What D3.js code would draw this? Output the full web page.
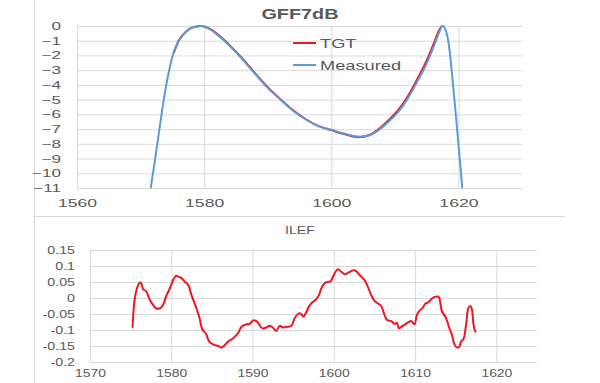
<!DOCTYPE html>
<html>
<head>
<meta charset="utf-8">
<script src="https://cdn.jsdelivr.net/npm/d3@7"></script>
<style>
  html, body { margin: 0; padding: 0; background: #ffffff; }
  svg { display: block; }
  text { font-family: "Liberation Sans", Arial, sans-serif; fill: #595959; }
</style>
</head>
<body>
<svg id="chart" width="600" height="383"></svg>
<script>
// ---------- Data (top chart: GFF7dB) ----------
const topTitle = "GFF7dB";
const topXTicks = [1560, 1580, 1600, 1620];
const topYTicks = [0, -1, -2, -3, -4, -5, -6, -7, -8, -9, -10, -11];
const seriesNames = ["TGT", "Measured"];

const measuredWl = [1571.6, 1572.2, 1572.8, 1573.4, 1574.0, 1574.6, 1575.2, 1576.0, 1577.0, 1578.0,
  1579.5, 1581.0, 1582.5, 1584.0, 1586.0, 1588.0, 1590.0, 1592.0, 1594.0, 1596.0, 1598.0, 1600.0,
  1602.0, 1604.5, 1606.0, 1607.5, 1609.0, 1610.5, 1612.0, 1613.5, 1615.0, 1616.2, 1617.0, 1617.5,
  1618.0, 1618.5, 1619.0, 1619.5, 1620.0, 1620.6];
const measuredDb = [-11, -9.3, -7.5, -5.7, -4.1, -2.8, -1.8, -1.0, -0.45, -0.13,
  0, -0.25, -0.75, -1.35, -2.25, -3.25, -4.2, -5.0, -5.75, -6.35, -6.8, -7.05,
  -7.3, -7.52, -7.42, -7.05, -6.5, -5.85, -4.95, -3.8, -2.55, -1.3, -0.4, 0,
  -0.3, -1.3, -3.3, -5.6, -8.0, -11];

const tgtWl = [1575.2, 1576.0, 1577.0, 1578.0, 1579.5, 1581.0, 1582.5, 1584.0, 1586.0, 1588.0,
  1590.0, 1592.0, 1594.0, 1596.0, 1598.0, 1600.0, 1602.0, 1604.3, 1606.0, 1607.5, 1609.0, 1610.5,
  1612.0, 1613.5, 1615.0, 1616.2, 1617.0, 1617.4];
const tgtDb = [-1.85, -1.0, -0.45, -0.13, 0, -0.22, -0.7, -1.3, -2.2, -3.2,
  -4.15, -4.97, -5.72, -6.33, -6.8, -7.07, -7.33, -7.55, -7.4, -6.98, -6.4, -5.72,
  -4.8, -3.62, -2.35, -1.1, -0.25, 0];

// ---------- Data (bottom chart: ILEF) ----------
const botTitle = "ILEF";
const botXTicks = [1570, 1580, 1590, 1600, 1610, 1620];
const botYTicks = [0.15, 0.1, 0.05, 0, -0.05, -0.1, -0.15, -0.2];
const ilefWl = [1575.24, 1575.53, 1575.94, 1576.14, 1576.3, 1576.55, 1576.88, 1577.37, 1577.78, 1578.1,
  1578.6, 1578.93, 1579.42, 1579.83, 1580.23, 1580.57, 1580.85, 1581.26, 1581.67, 1582.08,
  1582.49, 1583.02, 1583.43, 1583.85, 1584.25, 1584.66, 1585.15, 1585.77, 1586.18, 1586.59,
  1587.0, 1587.61, 1588.22, 1588.64, 1589.25, 1589.66, 1590.06, 1590.47, 1590.8, 1591.21,
  1591.7, 1592.11, 1592.52, 1592.93, 1593.34, 1593.75, 1594.24, 1594.78, 1595.18, 1595.59,
  1595.88, 1596.29, 1596.54, 1596.94, 1597.36, 1597.76, 1598.17, 1598.46, 1598.87, 1599.28,
  1599.57, 1599.9, 1600.22, 1600.51, 1600.92, 1601.41, 1601.74, 1602.15, 1602.43, 1602.76,
  1603.17, 1603.78, 1604.2, 1604.6, 1605.01, 1605.42, 1605.83, 1606.24, 1606.57, 1607.06,
  1607.47, 1607.76, 1608.0, 1608.3, 1608.7, 1609.1, 1609.52, 1609.93, 1610.22, 1610.63,
  1610.95, 1611.28, 1611.69, 1612.1, 1612.5, 1612.9, 1613.08, 1613.32, 1613.73, 1614.23,
  1614.55, 1614.84, 1615.16, 1615.45, 1615.65, 1615.94, 1616.27, 1616.55, 1616.8, 1617.0,
  1617.17, 1617.37, 1617.5];
const ilefDb = [-0.093, 0.002, 0.041, 0.048, 0.046, 0.027, 0.022, -0.006, -0.022, -0.032,
  -0.032, -0.024, 0.009, 0.03, 0.056, 0.069, 0.067, 0.062, 0.051, 0.041,
  0.009, -0.027, -0.058, -0.1, -0.11, -0.136, -0.145, -0.15, -0.155, -0.147,
  -0.136, -0.126, -0.11, -0.09, -0.082, -0.081, -0.07, -0.072, -0.082, -0.095,
  -0.092, -0.087, -0.093, -0.103, -0.087, -0.092, -0.09, -0.087, -0.063, -0.05,
  -0.048, -0.058, -0.048, -0.027, -0.013, -0.006, 0.009, 0.03, 0.046, 0.051,
  0.051, 0.067, 0.082, 0.09, 0.082, 0.074, 0.079, 0.084, 0.087, 0.084,
  0.072, 0.056, 0.035, 0.009, -0.009, -0.017, -0.025, -0.053, -0.069, -0.072,
  -0.081, -0.077, -0.095, -0.09, -0.084, -0.077, -0.072, -0.082, -0.053, -0.037,
  -0.03, -0.017, -0.013, -0.001, 0.004, 0.004, -0.012, -0.043, -0.058, -0.095,
  -0.116, -0.145, -0.155, -0.152, -0.136, -0.129, -0.084, -0.032, -0.025, -0.037,
  -0.079, -0.103, -0.107];

// ---------- Drawing ----------
const svg = d3.select("#chart");
const GRID = "#d9d9d9";
const RED = "#f01522";
const BLUE = "#5b9bd5";

function stretch(sel, k) {
  sel.each(function () {
    const len = this.getComputedTextLength();
    this.setAttribute("textLength", (len * k).toFixed(2));
    this.setAttribute("lengthAdjust", "spacingAndGlyphs");
  });
}

// outer frame lines
svg.append("line").attr("x1", 34.5).attr("x2", 34.5).attr("y1", 0).attr("y2", 383)
  .attr("stroke", GRID).attr("stroke-width", 1);
svg.append("line").attr("x1", 34).attr("x2", 565).attr("y1", 216.5).attr("y2", 216.5)
  .attr("stroke", GRID).attr("stroke-width", 1);

// ===== Top chart =====
const xT = d3.scaleLinear().domain([1560, 1630]).range([77, 522]);
const yT = d3.scaleLinear().domain([-11, 0]).range([188, 26]);

const gT = svg.append("g");
// horizontal grid
gT.append("g").attr("transform", `translate(${xT(1560)},0)`)
  .call(d3.axisLeft(yT).tickValues(topYTicks).tickSize(-(xT(1630) - xT(1560))).tickFormat(""))
  .call(g => g.select(".domain").remove())
  .call(g => g.selectAll("line").attr("stroke", GRID));
// vertical grid
gT.append("g").attr("transform", `translate(0,${yT(-11)})`)
  .call(d3.axisBottom(xT).tickValues(topXTicks).tickSize(-(yT(-11) - yT(0))).tickFormat(""))
  .call(g => g.select(".domain").remove())
  .call(g => g.selectAll("line").attr("stroke", GRID));

// y labels
const yAxT = gT.append("g").attr("transform", `translate(61,0)`)
  .call(d3.axisLeft(yT).tickValues(topYTicks).tickSize(0).tickPadding(0).tickFormat(d3.format("d")))
  .call(g => g.select(".domain").remove());
yAxT.selectAll("text").attr("font-size", 11).attr("fill", "#595959")
  .style("font-family", '"Liberation Sans", Arial, sans-serif');
stretch(yAxT.selectAll("text"), 1.55);

// x labels
const xAxT = gT.append("g").attr("transform", `translate(0,199)`)
  .call(d3.axisBottom(xT).tickValues(topXTicks).tickSize(0).tickPadding(0).tickFormat(d3.format("d")))
  .call(g => g.select(".domain").remove());
xAxT.selectAll("text").attr("font-size", 11).attr("fill", "#595959")
  .style("font-family", '"Liberation Sans", Arial, sans-serif');
stretch(xAxT.selectAll("text"), 1.6);

// title
const tt = svg.append("text").attr("x", 300).attr("y", 18.5).attr("text-anchor", "middle")
  .attr("font-size", 15.5).attr("font-weight", "bold").text(topTitle);
stretch(tt, 1.28);

// lines
const lineT = d3.line().x(d => xT(d[0])).y(d => yT(d[1])).curve(d3.curveMonotoneX);
const tgtData = tgtWl.map((w, i) => [w, tgtDb[i]]);
const measData = measuredWl.map((w, i) => [w, measuredDb[i]]);
gT.append("path").datum(tgtData).attr("d", lineT)
  .attr("fill", "none").attr("stroke", RED).attr("stroke-width", 2);
gT.append("path").datum(measData).attr("d", lineT)
  .attr("fill", "none").attr("stroke", BLUE).attr("stroke-width", 2);

// legend
const legColors = [RED, BLUE];
const legY = [43, 65];
seriesNames.forEach((name, i) => {
  svg.append("line").attr("x1", 293).attr("x2", 316).attr("y1", legY[i]).attr("y2", legY[i])
    .attr("stroke", legColors[i]).attr("stroke-width", 2);
  const t = svg.append("text").attr("x", 320).attr("y", legY[i] + 5)
    .attr("font-size", 13.5).text(name);
  stretch(t, 1.35);
});

// ===== Bottom chart =====
const xB = d3.scaleLinear().domain([1570, 1625]).range([90, 537]);
const yB = d3.scaleLinear().domain([-0.2, 0.15]).range([362, 250]);

const gB = svg.append("g");
gB.append("g").attr("transform", `translate(${xB(1570)},0)`)
  .call(d3.axisLeft(yB).tickValues(botYTicks).tickSize(-(xB(1625) - xB(1570))).tickFormat(""))
  .call(g => g.select(".domain").remove())
  .call(g => g.selectAll("line").attr("stroke", GRID));
gB.append("g").attr("transform", `translate(0,${yB(-0.2)})`)
  .call(d3.axisBottom(xB).tickValues(botXTicks).tickSize(-(yB(-0.2) - yB(0.15))).tickFormat(""))
  .call(g => g.select(".domain").remove())
  .call(g => g.selectAll("line").attr("stroke", GRID));

const yAxB = gB.append("g").attr("transform", `translate(75,0)`)
  .call(d3.axisLeft(yB).tickValues(botYTicks).tickSize(0).tickPadding(0).tickFormat(d => String(d)))
  .call(g => g.select(".domain").remove());
yAxB.selectAll("text").attr("font-size", 10.7).attr("fill", "#595959")
  .style("font-family", '"Liberation Sans", Arial, sans-serif');
stretch(yAxB.selectAll("text"), 1.33);

const xAxB = gB.append("g").attr("transform", `translate(0,369)`)
  .call(d3.axisBottom(xB).tickValues(botXTicks).tickSize(0).tickPadding(0).tickFormat(d3.format("d")))
  .call(g => g.select(".domain").remove());
xAxB.selectAll("text").attr("font-size", 10.7).attr("fill", "#595959")
  .style("font-family", '"Liberation Sans", Arial, sans-serif');
stretch(xAxB.selectAll("text"), 1.3);

const bt = svg.append("text").attr("x", 300).attr("y", 234.3).attr("text-anchor", "middle")
  .attr("font-size", 10.7).text(botTitle);
stretch(bt, 1.33);

const lineB = d3.line().x(d => xB(d[0])).y(d => yB(d[1])).curve(d3.curveCatmullRom.alpha(0.5));
gB.append("path").datum(ilefWl.map((w, i) => [w, ilefDb[i]])).attr("d", lineB)
  .attr("fill", "none").attr("stroke", RED).attr("stroke-width", 2);
</script>
</body>
</html>
